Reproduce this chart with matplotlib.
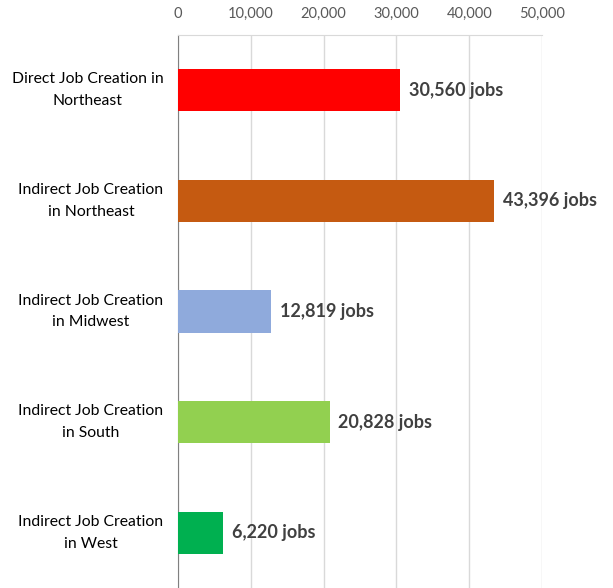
import matplotlib.pyplot as plt
from matplotlib.ticker import FuncFormatter

categories = ["Direct Job Creation in\nNortheast",
              "Indirect Job Creation\nin Northeast",
              "Indirect Job Creation\nin Midwest",
              "Indirect Job Creation\nin South",
              "Indirect Job Creation\nin West"]
jobs = [30560, 43396, 12819, 20828, 6220]
bar_colors = ["#FF0000", "#C55A11", "#8FAADC", "#92D050", "#00B050"]
x_ticks = [0, 10000, 20000, 30000, 40000, 50000]

plt.rcParams['font.family'] = ['Lato', 'DejaVu Sans']

fig = plt.figure(figsize=(6.13, 5.88), dpi=100)
ax = fig.add_axes([178 / 613, 0, 364 / 613, 553 / 588])

pos = list(range(len(categories)))
ax.barh(pos, jobs, height=0.38, color=bar_colors, zorder=3)
for p, v in zip(pos, jobs):
    ax.text(v + 1200, p, f"{v:,} jobs", va="center", ha="left",
            fontsize=13, fontweight="bold", color="#404040", zorder=4)

ax.set_xlim(0, 50000)
ax.set_ylim(4.5, -0.5)
ax.set_xticks(x_ticks)
ax.xaxis.set_major_formatter(FuncFormatter(lambda v, _: f"{int(v):,}"))
ax.xaxis.tick_top()
ax.tick_params(axis="x", length=0, pad=10, labelsize=10.5, labelcolor="#595959")
ax.set_yticks(pos)
ax.set_yticklabels(categories, fontsize=11.3, color="#000000",
                   multialignment="center", linespacing=1.7, va="center")
ax.tick_params(axis="y", length=0, pad=10.5)
ax.grid(axis="x", color="#D9D9D9", linewidth=1, zorder=0)

ax.spines["bottom"].set_visible(False)
ax.spines["right"].set_visible(False)
ax.spines["top"].set_color("#D9D9D9")
ax.spines["left"].set_color("#808080")

fig.savefig("out.png", dpi=100)
